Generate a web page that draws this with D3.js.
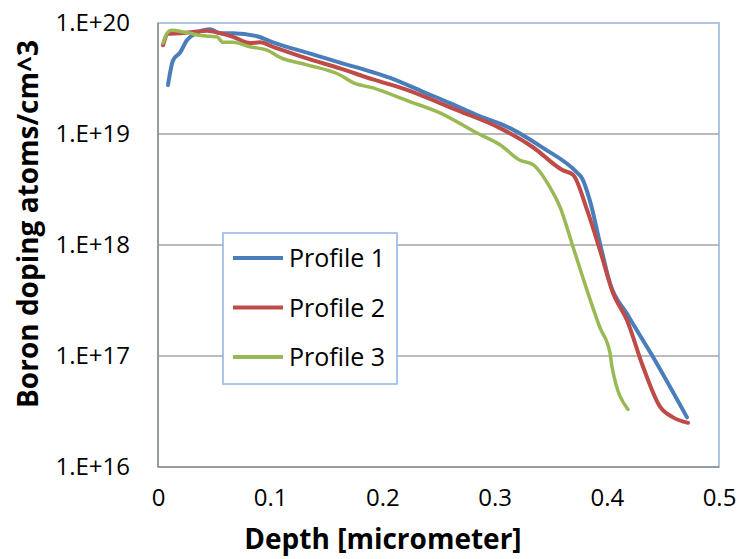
<!DOCTYPE html>
<html>
<head>
<meta charset="utf-8">
<script src="https://cdn.jsdelivr.net/npm/d3@7"></script>
<style>
  body { margin: 0; background: #fff; }
  text { font-family: "Open Sans", sans-serif; fill: #000; }
</style>
</head>
<body>
<div id="chart"></div>
<script>
// depth [micrometer] / concentration [atoms/cm^3]
var profile1 = [
  [0.0089, 2.76e19], [0.0134, 4.6e19], [0.0196, 5.4e19], [0.0258, 7.0e19],
  [0.0312, 7.8e19], [0.0463, 8.8e19], [0.0553, 8.1e19], [0.0668, 8.1e19],
  [0.0882, 7.6e19], [0.1025, 6.7e19], [0.1328, 5.4e19], [0.1622, 4.4e19],
  [0.1916, 3.6e19], [0.2068, 3.2e19], [0.2362, 2.4e19], [0.2602, 1.9e19],
  [0.2843, 1.48e19], [0.3137, 1.13e19], [0.3431, 7.5e18], [0.3734, 4.5e18],
  [0.3779, 4.0e18], [0.385, 2.5e18], [0.3939, 1.04e18], [0.4029, 4.5e17],
  [0.418, 2.4e17], [0.4412, 9.8e16], [0.4715, 2.8e16]
];
var profile2 = [
  [0.0045, 6.3e19], [0.0089, 8.0e19], [0.0196, 8.1e19], [0.0312, 8.3e19],
  [0.0437, 8.5e19], [0.0553, 8.1e19], [0.0668, 7.5e19], [0.082, 6.6e19],
  [0.0909, 6.7e19], [0.1025, 6.1e19], [0.1328, 4.8e19], [0.1622, 3.9e19],
  [0.1916, 3.1e19], [0.2219, 2.5e19], [0.2513, 1.9e19], [0.2665, 1.64e19],
  [0.3048, 1.13e19], [0.3342, 7.6e18], [0.361, 4.7e18], [0.3699, 4.3e18],
  [0.3824, 2.07e18], [0.3939, 9.0e17], [0.4055, 3.7e17], [0.418, 2.1e17],
  [0.4323, 8.0e16], [0.4474, 3.5e16], [0.459, 2.8e16], [0.4724, 2.5e16]
];
var profile3 = [
  [0.0045, 6.6e19], [0.0089, 8.3e19], [0.0125, 8.6e19], [0.0223, 8.3e19],
  [0.0285, 8.1e19], [0.0348, 7.8e19], [0.0463, 7.6e19], [0.0526, 7.5e19],
  [0.0579, 6.7e19], [0.0668, 6.7e19], [0.082, 6.1e19], [0.0971, 5.7e19],
  [0.1087, 4.9e19], [0.1328, 4.2e19], [0.1622, 3.4e19], [0.1738, 2.9e19],
  [0.1916, 2.6e19], [0.2219, 2.0e19], [0.2513, 1.55e19], [0.2843, 1.02e19],
  [0.3048, 8.0e18], [0.3226, 5.8e18], [0.3342, 5.3e18], [0.3494, 3.3e18],
  [0.3583, 2.2e18], [0.3699, 9.6e17], [0.3824, 3.9e17], [0.3939, 1.8e17],
  [0.4029, 1.06e17], [0.4046, 8.0e16], [0.4189, 3.3e16]
];
var seriesNames = ["Profile 1", "Profile 2", "Profile 3"];
var seriesColors = ["#4a7ebb", "#be4b48", "#98b954"];
var xTicks = [0, 0.1, 0.2, 0.3, 0.4, 0.5];
var yTicks = [1e16, 1e17, 1e18, 1e19, 1e20];
var yTickLabels = ["1.E+16", "1.E+17", "1.E+18", "1.E+19", "1.E+20"];

var width = 740, height = 559;
var margin = { top: 23, right: 21, bottom: 92, left: 158 };
var iw = width - margin.left - margin.right;
var ih = height - margin.top - margin.bottom;

var svg = d3
  .select("#chart")
  .append("svg")
  .attr("width", width)
  .attr("height", height);

var x = d3.scaleLinear().domain([0, 0.5]).range([0, iw]);
var y = d3.scaleLog().domain([1e16, 1e20]).range([ih, 0]);

var g = svg
  .append("g")
  .attr("transform", "translate(" + margin.left + "," + margin.top + ")");

// gridlines
g.selectAll(".grid")
  .data(yTicks.slice(1, 4))
  .enter()
  .append("line")
  .attr("x1", 0)
  .attr("x2", iw)
  .attr("y1", d => y(d))
  .attr("y2", d => y(d))
  .attr("stroke", "#a5a5a5")
  .attr("stroke-width", 1.5);

// plot area border
g.append("rect")
  .attr("width", iw)
  .attr("height", ih)
  .attr("fill", "none")
  .attr("stroke", "#95b3d7")
  .attr("stroke-width", 1.5);

// axis lines
g.append("line")
  .attr("x1", 0).attr("x2", 0).attr("y1", 0).attr("y2", ih)
  .attr("stroke", "#8c8c8c").attr("stroke-width", 1.5);
g.append("line")
  .attr("x1", 0).attr("x2", iw).attr("y1", ih).attr("y2", ih)
  .attr("stroke", "#8c8c8c").attr("stroke-width", 1.5);

// y tick labels
var yAxis = d3
  .axisLeft(y)
  .tickValues(yTicks)
  .tickFormat((d, i) => yTickLabels[i])
  .tickSize(0)
  .tickPadding(28);
var yg = g.append("g").call(yAxis);
yg.select(".domain").remove();
yg.selectAll("text")
  .style("font-family", "'Open Sans', sans-serif")
  .style("font-size", "24px")
  .attr("fill", "#000");

// x tick labels
var xAxis = d3
  .axisBottom(x)
  .tickValues(xTicks)
  .tickFormat(d => (d === 0 ? "0" : d3.format(".1f")(d)))
  .tickSize(0)
  .tickPadding(22);
var xg = g.append("g").attr("transform", "translate(0," + ih + ")").call(xAxis);
xg.select(".domain").remove();
xg.selectAll("text")
  .style("font-family", "'Open Sans', sans-serif")
  .style("font-size", "24px")
  .attr("fill", "#000");

// series
var line = d3
  .line()
  .x(d => x(d[0]))
  .y(d => y(d[1]))
  .curve(d3.curveMonotoneX);

var allSeries = [profile1, profile2, profile3];
var widths = [4, 4, 3.5];
allSeries.forEach((s, i) => {
  g.append("path")
    .datum(s)
    .attr("d", line)
    .attr("fill", "none")
    .attr("stroke", seriesColors[i])
    .attr("stroke-width", widths[i])
    .attr("stroke-linejoin", "round")
    .attr("stroke-linecap", "round");
});

// legend
var legend = svg.append("g").attr("transform", "translate(223,233)");
legend
  .append("rect")
  .attr("width", 174)
  .attr("height", 151)
  .attr("fill", "#fff")
  .attr("stroke", "#8eb4e3")
  .attr("stroke-width", 1.5);
seriesNames.forEach((name, i) => {
  var yy = 25 + i * 49.5;
  legend
    .append("line")
    .attr("x1", 10)
    .attr("x2", 60)
    .attr("y1", yy)
    .attr("y2", yy)
    .attr("stroke", seriesColors[i])
    .attr("stroke-width", 4);
  legend
    .append("text")
    .attr("x", 66)
    .attr("y", yy)
    .attr("dy", "0.36em")
    .style("font-size", "25px")
    .text(name);
});

// axis titles
svg
  .append("text")
  .attr("x", 383)
  .attr("y", 549)
  .attr("text-anchor", "middle")
  .style("font-size", "28px")
  .style("font-weight", "bold")
  .text("Depth [micrometer]");

svg
  .append("text")
  .attr("transform", "translate(38,224) rotate(-90)")
  .attr("text-anchor", "middle")
  .style("font-size", "28px")
  .style("font-weight", "bold")
  .text("Boron doping atoms/cm^3");
</script>
</body>
</html>
